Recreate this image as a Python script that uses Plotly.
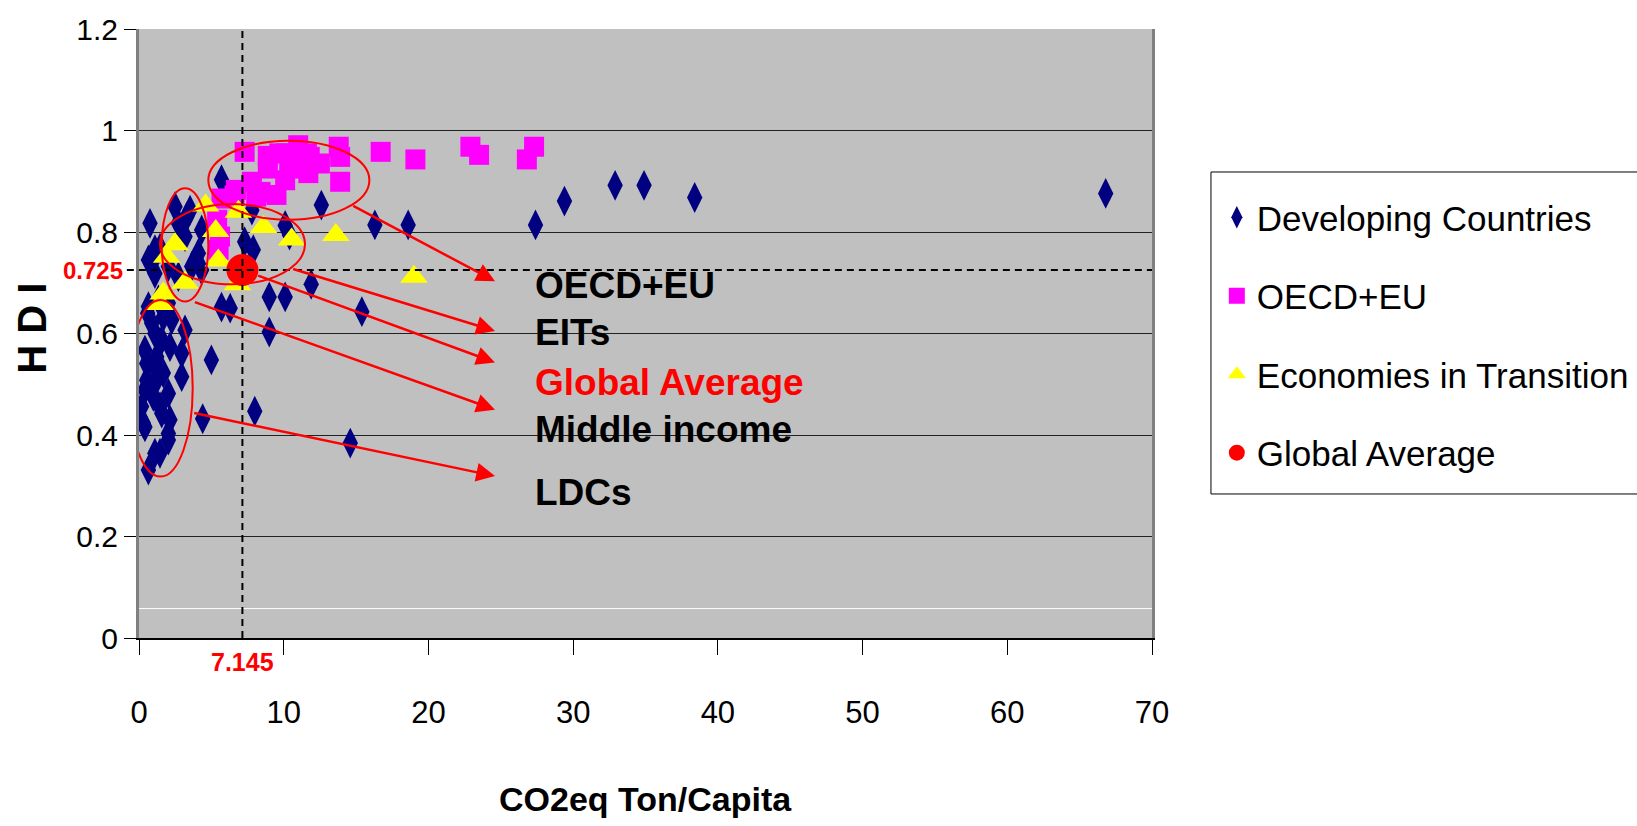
import plotly.graph_objects as go

# ---------------- data ----------------
dev_x = [66.8, 38.4, 34.9, 32.9, 29.4, 27.4, 18.6, 16.3, 12.6, 15.4, 14.6, 11.9, 10.1, 9.0, 9.0, 8.0,
         5.7, 6.3, 5.0, 4.4, 10.1, 10.4, 7.3, 7.9, 5.7, 7.8,
         0.76, 2.49, 3.53, 2.72, 3.18, 4.33, 1.1, 0.65, 2.03, 4.1, 3.64, 1.1, 2.72, 4.33, 0.99, 1.45, 3.3,
         0.65, 1.34,
         0.6, 2.03, 3.18, 1.57, 0.41, 2.95, 1.1, 2.95, 1.1, 0.41, 2.03, 0.18, 1.57, 0.41, 2.03, 2.03, 1.1,
         0.65, 2.26, 1.1, 1.45, 0.99, 1.68, 0.53, 2.14, 1.45, 0.3, 0.88, 1.68, 2.14, 0.53, 1.22]
dev_y = [0.876, 0.868, 0.892, 0.892, 0.861, 0.814, 0.814, 0.814, 0.853, 0.643, 0.384, 0.697, 0.672, 0.672, 0.603, 0.447,
         0.652, 0.650, 0.548, 0.432, 0.813, 0.794, 0.781, 0.765, 0.903, 0.843,
         0.817, 0.850, 0.843, 0.817, 0.791, 0.804, 0.765, 0.745, 0.732, 0.758, 0.732, 0.718, 0.712, 0.725, 0.745, 0.768, 0.830,
         0.653, 0.666,
         0.640, 0.660, 0.607, 0.587, 0.567, 0.561, 0.535, 0.515, 0.502, 0.489, 0.482, 0.456, 0.443, 0.416, 0.403, 0.390, 0.364,
         0.331, 0.627, 0.600, 0.456, 0.476, 0.522, 0.508, 0.430, 0.364, 0.423, 0.620, 0.633, 0.574, 0.541, 0.554]

oecd_x = [7.3, 8.9, 9.7, 10.2, 11.0, 11.6, 11.8, 10.4, 12.5, 13.8, 13.9, 16.7, 19.1, 22.9, 23.5, 26.8, 27.3,
          7.8, 8.4, 6.7, 5.7, 9.5, 10.1, 10.4, 8.9, 11.7, 13.9, 5.4, 5.6, 5.5, 6.6, 8.1]
oecd_y = [0.958, 0.950, 0.955, 0.955, 0.971, 0.955, 0.948, 0.942, 0.935, 0.968, 0.948, 0.958, 0.943, 0.968, 0.952, 0.943, 0.968,
          0.899, 0.879, 0.883, 0.866, 0.873, 0.902, 0.925, 0.925, 0.916, 0.899, 0.824, 0.791, 0.765, 0.872, 0.870]

eit_x = [4.6, 6.87, 8.6, 5.3, 10.55, 13.6, 2.49, 1.91, 5.48, 3.18, 1.68, 1.45, 6.8, 19.0]
eit_y = [0.852, 0.840, 0.810, 0.802, 0.785, 0.794, 0.776, 0.751, 0.744, 0.700, 0.679, 0.658, 0.697, 0.712]

glob_x = [7.145]
glob_y = [0.725]

series_names = ["Developing Countries", "OECD+EU", "Economies in Transition", "Global Average"]

x_ticks = [0, 10, 20, 30, 40, 50, 60, 70]
y_ticks = [0, 0.2, 0.4, 0.6, 0.8, 1.0, 1.2]
y_tick_text = ["0", "0.2", "0.4", "0.6", "0.8", "1", "1.2"]

# group labels and the points their arrows start from / point to
group_labels = ["OECD+EU", "EITs", "Global Average", "Middle income", "LDCs"]
group_label_colors = ["black", "black", "red", "black", "black"]
group_label_y = [0.694, 0.601, 0.504, 0.410, 0.286]
group_label_x = 27.25
arrow_from = [(14.7, 0.853), (10.55, 0.728), (8.13, 0.715), (3.76, 0.663), (3.71, 0.444)]
arrow_to = [(24.6, 0.703), (24.6, 0.605), (24.6, 0.543), (24.6, 0.450), (24.6, 0.319)]

# ellipses around groups (x0, x1, y0, y1)
ellipses = [(4.79, 15.92, 0.824, 0.980),
            (1.45, 11.47, 0.697, 0.855),
            (1.57, 4.79, 0.663, 0.886),
            (-0.74, 3.71, 0.318, 0.666)]

FONT = "Liberation Sans, Arial, sans-serif"

fig = go.Figure()
fig.add_trace(go.Scatter(x=dev_x, y=dev_y, mode="markers", name=series_names[0], legendgroup="a",
                         marker=dict(symbol="diamond-tall", size=22, color="#000080")))
fig.add_trace(go.Scatter(x=oecd_x, y=oecd_y, mode="markers", name=series_names[1], legendgroup="b",
                         marker=dict(symbol="square", size=20, color="#FF00FF")))
fig.add_trace(go.Scatter(x=eit_x, y=eit_y, mode="markers", name=series_names[2], legendgroup="c",
                         marker=dict(symbol="triangle-up", size=24, color="#FFFF00")))
fig.add_trace(go.Scatter(x=glob_x, y=glob_y, mode="markers", name=series_names[3], legendgroup="d",
                         marker=dict(symbol="circle", size=32, color="#FF0000")))

shapes = []
shapes.append(dict(type="line", xref="paper", yref="y", x0=0, x1=1, y0=0.058, y1=0.058,
                   line=dict(color="white", width=1), layer="below"))
shapes.append(dict(type="line", xref="paper", yref="y", x0=-0.012, x1=1, y0=glob_y[0], y1=glob_y[0],
                   line=dict(color="black", width=2, dash="7px,5px")))
shapes.append(dict(type="line", xref="x", yref="y", x0=glob_x[0], x1=glob_x[0], y0=0, y1=1.2,
                   line=dict(color="black", width=2, dash="7px,5px")))
for (x0, x1, y0, y1) in ellipses:
    shapes.append(dict(type="circle", xref="x", yref="y", x0=x0, x1=x1, y0=y0, y1=y1,
                       line=dict(color="#FF0000", width=2)))
# legend frame (runs off the right edge as in the original)
shapes.append(dict(type="rect", xref="paper", yref="paper", x0=1.0582, x1=1.52, y0=0.2365, y1=0.7652,
                   line=dict(color="black", width=1), fillcolor="white", layer="below"))

annotations = []
for (fx, fy), (tx, ty) in zip(arrow_from, arrow_to):
    annotations.append(dict(x=tx, y=ty, ax=fx, ay=fy, xref="x", yref="y", axref="x", ayref="y",
                            text="", showarrow=True, arrowhead=2, arrowsize=1.5, arrowwidth=2.5,
                            arrowcolor="#FF0000"))
for lab, col, ly in zip(group_labels, group_label_colors, group_label_y):
    annotations.append(dict(x=group_label_x, y=ly, xref="x", yref="y", xanchor="left", yanchor="middle",
                            text="<b>%s</b>" % lab, showarrow=False,
                            font=dict(family=FONT, size=37, color=col)))
annotations.append(dict(x=-0.0138, y=glob_y[0], xref="paper", yref="y", xanchor="right", yanchor="middle",
                        text="<b>0.725</b>", showarrow=False, font=dict(family=FONT, size=24, color="#FF0000")))
annotations.append(dict(x=glob_x[0], y=-0.0394, xref="x", yref="paper", xanchor="center", yanchor="middle",
                        text="<b>7.145</b>", showarrow=False, font=dict(family=FONT, size=25, color="#FF0000")))
annotations.append(dict(x=0.5, y=-0.264, xref="paper", yref="paper", xanchor="center", yanchor="middle",
                        text="<b>CO2eq Ton/Capita</b>", showarrow=False,
                        font=dict(family=FONT, size=34, color="black")))
annotations.append(dict(x=-0.1056, y=0.508, xref="paper", yref="paper", xanchor="center", yanchor="middle",
                        text="<b>H D I</b>", textangle=-90, showarrow=False,
                        font=dict(family=FONT, size=40, color="black")))

fig.update_layout(
    width=1637, height=826,
    margin=dict(l=139, r=485, t=29, b=188, autoexpand=False),
    paper_bgcolor="white", plot_bgcolor="#C0C0C0",
    shapes=shapes, annotations=annotations,
    showlegend=True,
    legend=dict(x=1.064, y=0.739, xanchor="left", yanchor="top",
                bgcolor="rgba(0,0,0,0)", borderwidth=0,
                font=dict(family=FONT, size=35, color="black"),
                itemsizing="trace", tracegroupgap=30),
    xaxis=dict(range=[0, 70], tickvals=x_ticks, ticks="outside", ticklen=15, tickwidth=1, tickcolor="black",
               showgrid=False, zeroline=False, showline=True, linecolor="black", linewidth=2,
               tickfont=dict(family=FONT, size=31, color="black"), ticklabelstandoff=31),
    yaxis=dict(range=[0, 1.2], tickvals=y_ticks, ticktext=y_tick_text, ticks="outside", ticklen=12, tickwidth=1,
               tickcolor="black", showgrid=True, gridcolor="#222222", gridwidth=1, zeroline=False,
               showline=True, linecolor="#808080", linewidth=3, mirror=True,
               tickfont=dict(family=FONT, size=30, color="black")),
)

fig.write_html("out.html")
